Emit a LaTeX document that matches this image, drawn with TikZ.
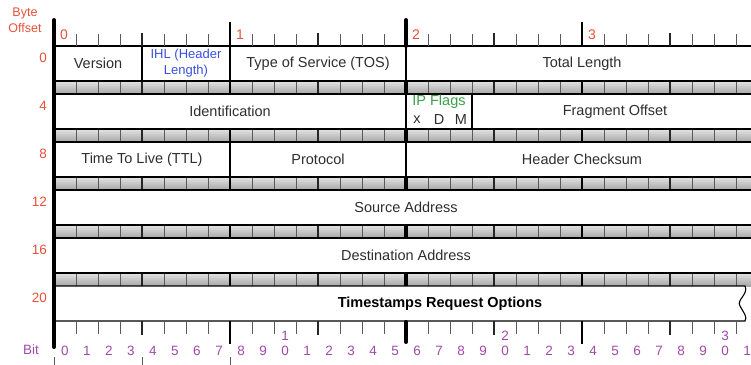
\documentclass[tikz,border=0pt]{standalone}
\usepackage{fontspec}
\setmainfont{Liberation Sans}
\definecolor{offsetred}{HTML}{E8503A}
\definecolor{bitpurple}{HTML}{A04AA8}
\definecolor{ihlblue}{HTML}{3A50E0}
\definecolor{flaggreen}{HTML}{3AA048}
\definecolor{txtgray}{HTML}{2E2E2E}
\tikzset{
    field/.style = {rectangle, draw=black, line width=1.1pt, inner sep=0pt, outer sep=0pt, minimum height=35pt, text=txtgray, font=\fontsize{14.5}{16}\selectfont},
    fieldtxt/.style = {inner sep=0pt, text=txtgray, font=\fontsize{14.5}{16}\selectfont},
    offs/.style = {inner sep=0pt, anchor=east, text=offsetred, font=\fontsize{13.5}{15}\selectfont},
    bytenum/.style = {inner sep=0pt, text=offsetred, font=\fontsize{14}{16}\selectfont},
    bitnum/.style = {inner sep=0pt, text=bitpurple, font=\fontsize{13.5}{15}\selectfont},
    bittick/.style = {line width=0.7pt, draw=black!65},
    nibtick/.style = {line width=1.6pt, draw=black!85},
    bytetick/.style = {line width=2.2pt, draw=black},
    wordtick/.style = {line width=4pt, draw=black, line cap=round},
    strip/.style = {top color=gray!22, bottom color=gray!70, draw=none}
}

\begin{document}
\begin{tikzpicture}[x=1pt,y=-1pt]
\useasboundingbox (0,0) rectangle (751,364);
\clip (0,0) rectangle (751,364);
% gray bars between the rows
\foreach \r in {0,...,4}{
  \shade[strip] (54,{81+48*\r}) rectangle (751,{94+48*\r});
  \foreach \i in {1,...,31} \draw[bittick] ({54+22*\i},{81+48*\r}) -- ({54+22*\i},{94+48*\r});
  \foreach \i in {4,12,20,28} \draw[nibtick] ({54+22*\i},{81+48*\r}) -- ({54+22*\i},{94+48*\r});
  \foreach \i in {8,24} \draw[bytetick] ({54+22*\i},{81+48*\r}) -- ({54+22*\i},{94+48*\r});
  \draw[line width=4pt] (406,{81+48*\r}) -- (406,{94+48*\r});
}
%
\node[field, minimum width=88pt] at (98,63.5) (version) {Version};
\node[field, minimum width=88pt, text=ihlblue, align=center, font=\fontsize{13}{16}\selectfont] at (186,63.5) (ihl) {IHL (Header\\Length)};
\node[field, minimum width=176pt] at (318,63.5) (tos) {Type of Service (TOS)};
\node[field, minimum width=352pt] at (582,63.5) (totlen) {Total Length};
%
\node[field, minimum width=352pt] at (230,111.5) (ident) {Identification};
\node[field, minimum width=66pt] at (439,111.5) (flags) {};
\node[fieldtxt, text=flaggreen] at (439,102) (flagname) {IP Flags};
\node[fieldtxt] at (417,120) (flagx) {x};
\node[fieldtxt] at (439,120) (flagd) {D};
\node[fieldtxt] at (461,120) (flagm) {M};
\node[field, minimum width=286pt] at (615,111.5) (fragoff) {Fragment Offset};
%
\node[field, minimum width=176pt] at (142,159.5) (ttl) {Time To Live (TTL)};
\node[field, minimum width=176pt] at (318,159.5) (proto) {Protocol};
\node[field, minimum width=352pt] at (582,159.5) (chksum) {Header Checksum};
%
\node[field, minimum width=704pt] at (406,207.5) (srcaddr) {Source Address};
\node[field, minimum width=704pt] at (406,255.5) (dstaddr) {Destination Address};
%
\draw[line width=1.1pt, fill=white] (54,286) -- (745,286) .. controls (749,294) and (736,300) .. (740,306) .. controls (743,312) and (748,317) .. (745,321) -- (54,321) -- cycle;
\node[fieldtxt, font=\fontsize{14.5}{16}\selectfont\bfseries, text=black] at (440,303.5) (tsopt) {Timestamps Request Options};
%
% top ruler
\foreach \i in {1,...,31} \draw[bittick] ({54+22*\i},34) -- ({54+22*\i},46);
\foreach \i in {4,12,20,28} \draw[nibtick] ({54+22*\i},33) -- ({54+22*\i},46);
\foreach \i in {8,24} \draw[bytetick] ({54+22*\i},22) -- ({54+22*\i},46);
\draw[wordtick] (406,20) -- (406,46);
\draw[wordtick] (54,20) -- (54,347);
\foreach \i/\n in {0/b0,8/b1,16/b2,24/b3} \node[bytenum] at ({64+22*\i},35) (\n) {\pgfmathtruncatemacro\bn{\i/8}\bn};
%
% bottom ruler
\foreach \i in {1,...,31} \draw[bittick] ({54+22*\i},321) -- ({54+22*\i},334);
\foreach \i in {4,12,20,28} \draw[nibtick] ({54+22*\i},321) -- ({54+22*\i},335);
\foreach \i in {8,24} \draw[bytetick] ({54+22*\i},321) -- ({54+22*\i},344);
\draw[wordtick] (406,322) -- (406,342);
\foreach \i in {0,4,8} \draw[bittick] ({54+22*\i},357) -- ({54+22*\i},366);
\foreach \i in {0,...,31}{
  \pgfmathtruncatemacro\dig{mod(\i,10)}
  \pgfmathtruncatemacro\tens{\i/10}
  \ifnum\dig=0 \ifnum\i>0
    \node[bitnum] at ({65+22*\i},336) (t\i) {\tens};
  \fi\fi
  \node[bitnum] at ({65+22*\i},351) (d\i) {\dig};
}
%
% left labels
\node[inner sep=0pt, align=center, text=offsetred, font=\fontsize{12.5}{16}\selectfont] at (25,20) (byteoff) {Byte\\Offset};
\node[offs] at (47,58) (o0) {0};
\node[offs] at (47,106) (o4) {4};
\node[offs] at (47,154) (o8) {8};
\node[offs] at (47,202) (o12) {12};
\node[offs] at (47,250) (o16) {16};
\node[offs] at (47,298) (o20) {20};
\node[bitnum] at (31,350) (bitlbl) {Bit};
\end{tikzpicture}
\end{document}
